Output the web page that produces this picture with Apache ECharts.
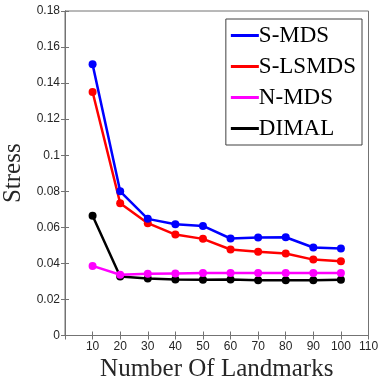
<!DOCTYPE html>
<html><head><meta charset="utf-8">
<script src="https://cdn.jsdelivr.net/npm/echarts@6/dist/echarts.min.js"></script>
<style>html,body{margin:0;padding:0;background:#fff}#c{width:379px;height:379px}</style>
</head><body><div id="c"></div>
<script>
const landmarks = [10, 20, 30, 40, 50, 60, 70, 80, 90, 100];
const sMDS   = [0.1504, 0.0800, 0.0647, 0.0617, 0.0608, 0.0538, 0.0543, 0.0545, 0.0488, 0.0482];
const sLSMDS = [0.1351, 0.0734, 0.0623, 0.0560, 0.0536, 0.0477, 0.0464, 0.0455, 0.0421, 0.0412];
const nMDS   = [0.0386, 0.0337, 0.0342, 0.0344, 0.0346, 0.0347, 0.0347, 0.0347, 0.0347, 0.0347];
const dimal  = [0.0664, 0.0327, 0.0316, 0.0311, 0.0309, 0.0311, 0.0307, 0.0307, 0.0307, 0.0309];
const seriesNames = ['S-MDS', 'S-LSMDS', 'N-MDS', 'DIMAL'];
const seriesColors = ['#0000ff', '#ff0000', '#ff00ff', '#000000'];
const seriesData = [sMDS, sLSMDS, nMDS, dimal];

const chart = echarts.init(document.getElementById('c'));
const axisCol = '#737373';
const serif = '"Liberation Serif", "DejaVu Serif", serif';
const sans = '"Liberation Sans", Arial, sans-serif';
chart.setOption({
  animation: false,
  backgroundColor: '#fff',
  grid: { left: 65, right: 10.5, top: 11, bottom: 43.5, show: true, borderColor: axisCol, borderWidth: 1,
          containLabel: false, outerBoundsMode: 'none' },
  xAxis: [{
    type: 'value', min: 0, max: 110, interval: 10,
    name: 'Number Of Landmarks', nameLocation: 'middle', nameGap: 17,
    nameTextStyle: { fontFamily: serif, fontSize: 25, color: '#262626' },
    axisLine: { show: true, onZero: false, lineStyle: { color: axisCol, width: 1 } },
    axisTick: { show: true, inside: true, length: 4, lineStyle: { color: axisCol } },
    axisLabel: { showMinLabel: false, fontFamily: sans, fontSize: 12, color: '#262626', margin: 5 },
    splitLine: { show: false }
  }, {
    type: 'value', min: 0, max: 110, interval: 10, position: 'top',
    axisLine: { show: true, lineStyle: { color: axisCol } },
    axisTick: { show: true, inside: true, length: 4, lineStyle: { color: axisCol } },
    axisLabel: { show: false }, splitLine: { show: false }
  }],
  yAxis: [{
    type: 'value', min: 0, max: 0.18, interval: 0.02,
    name: 'Stress', nameLocation: 'middle', nameGap: 32,
    nameTextStyle: { fontFamily: serif, fontSize: 25, color: '#262626' },
    axisLine: { show: true, onZero: false, lineStyle: { color: axisCol, width: 1 } },
    axisTick: { show: true, inside: true, length: 4, lineStyle: { color: axisCol } },
    axisLabel: { fontFamily: sans, fontSize: 12, color: '#262626', margin: 5,
      formatter: v => String(parseFloat(v.toFixed(2))) },
    splitLine: { show: false }
  }, {
    type: 'value', min: 0, max: 0.18, interval: 0.02, position: 'right',
    axisLine: { show: true, lineStyle: { color: axisCol } },
    axisTick: { show: true, inside: true, length: 4, lineStyle: { color: axisCol } },
    axisLabel: { show: false }, splitLine: { show: false }
  }],
  legend: {
    right: 17, top: 19, orient: 'vertical',
    itemWidth: 28, itemHeight: 3, itemGap: 8,
    padding: [5, 6, 5, 5],
    borderColor: '#404040', borderWidth: 1, backgroundColor: '#fff',
    icon: 'rect',
    textStyle: { fontFamily: serif, fontSize: 23, color: '#000', padding: [0, 0, 0, -5] },
    data: seriesNames.map((n, i) => ({ name: n, itemStyle: { color: seriesColors[i] } }))
  },
  series: seriesNames.map((n, i) => ({
    name: n, type: 'line',
    data: landmarks.map((x, j) => [x, seriesData[i][j]]),
    symbol: 'circle', symbolSize: 8,
    lineStyle: { color: seriesColors[i], width: 2.5 },
    itemStyle: { color: seriesColors[i] },
    z: 10 - i
  }))
});
</script></body></html>
